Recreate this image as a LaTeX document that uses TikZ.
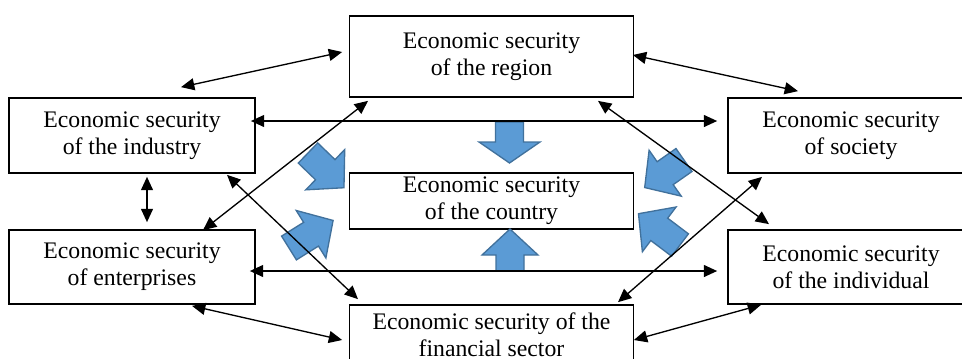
\documentclass[tikz,border=0pt]{standalone}
\usepackage{fontspec}
\setmainfont{Liberation Serif}
\usetikzlibrary{arrows.meta}
\definecolor{flowblue}{HTML}{5B9BD5}
\definecolor{flowedge}{HTML}{41719C}
\tikzset{
	secbox/.style={draw,line width=1.3pt,align=center,inner sep=0pt,
		font=\fontsize{17.8pt}{20.3pt}\selectfont},
	link/.style={line width=1pt,{Triangle[length=10pt,width=9pt]}-{Triangle[length=10pt,width=9pt]}},
	pics/blockarrow/.style n args={3}{code={
		\draw[fill=flowblue,draw=flowedge,line width=1pt]
		(0,-14)--({#1-#2},-14)--({#1-#2},-#3)--(#1,0)--({#1-#2},#3)--({#1-#2},14)--(0,14)--cycle;
	}}
}
\begin{document}
\begin{tikzpicture}[x=0.75pt,y=-0.75pt]
	\def\px{0.75pt}
	\useasboundingbox (0,0) rectangle (962,358);
	\clip (0,0) rectangle (962,358);
	
	%BOXES
	\node[secbox,minimum width=284*\px,minimum height=81*\px] (region) at (491.5,56.5) {Economic security\\of the region};
	\node[secbox,minimum width=246*\px,minimum height=75*\px] (industry) at (132,135.5) {Economic security\\of the industry};
	\node[secbox,minimum width=246*\px,minimum height=75*\px] (society) at (851,135.5) {Economic security\\of society};
	\node[secbox,minimum width=284*\px,minimum height=56*\px] (country) at (491.5,201) {Economic security\\of the country};
	\node[secbox,minimum width=246*\px,minimum height=74*\px] (enterprises) at (132,267) {Economic security\\of enterprises};
	\node[secbox,minimum width=246*\px,minimum height=74*\px] (individual) at (851,267) {Economic security\\of the individual};
	\node[secbox,minimum width=284*\px,minimum height=60*\px] (financial) at (491.5,335) {Economic security of the\\financial sector};
	
	%BLUE ARROWS
	\pic[rotate=-90] at (509.5,122) {blockarrow={41}{21}{30.5}};
	\pic[rotate=90] at (510,271) {blockarrow={42}{26}{28}};
	\pic[rotate=-44] at (308,153) {blockarrow={50}{26}{28}};
	\pic[rotate=32] at (289,248) {blockarrow={52}{26}{28}};
	\pic[rotate=-145] at (684,160) {blockarrow={48}{25}{28}};
	\pic[rotate=143] at (680,245) {blockarrow={52}{26}{28}};
	
	%LINKS
	\draw[link] ([shift={(49,-10)}]industry.north)--([shift={(-6.5,-4.5)}]region.west);
	\draw[link] ([shift={(-1.5,-1.5)}]region.east)--([shift={(-53,-6)}]society.north);
	\draw[link] ([shift={(-5,-14.5)}]industry.east)--([shift={(-10,-14.5)}]society.west);
	\draw[link] ([shift={(106.5,3)}]region.south)--([shift={(-82,-5)}]individual.north);
	\draw[link] ([shift={(15,3)}]industry.south)--([shift={(15,-7)}]enterprises.north);
	\draw[link] ([shift={(-123.5,3)}]region.south)--([shift={(71,1)}]enterprises.north);
	\draw[link] ([shift={(95,1)}]industry.south)--([shift={(-133.5,-5)}]financial.north);
	\draw[link] ([shift={(126.5,-2)}]financial.north)--([shift={(-89,3)}]society.south);
	\draw[link] ([shift={(-6,4)}]enterprises.east)--([shift={(-10,4)}]individual.west);
	\draw[link] ([shift={(60,1)}]enterprises.south)--([shift={(-6.5,5)}]financial.west);
	\draw[link] ([shift={(-0.5,5)}]financial.east)--([shift={(-90,0)}]individual.south);
\end{tikzpicture}
\end{document}
